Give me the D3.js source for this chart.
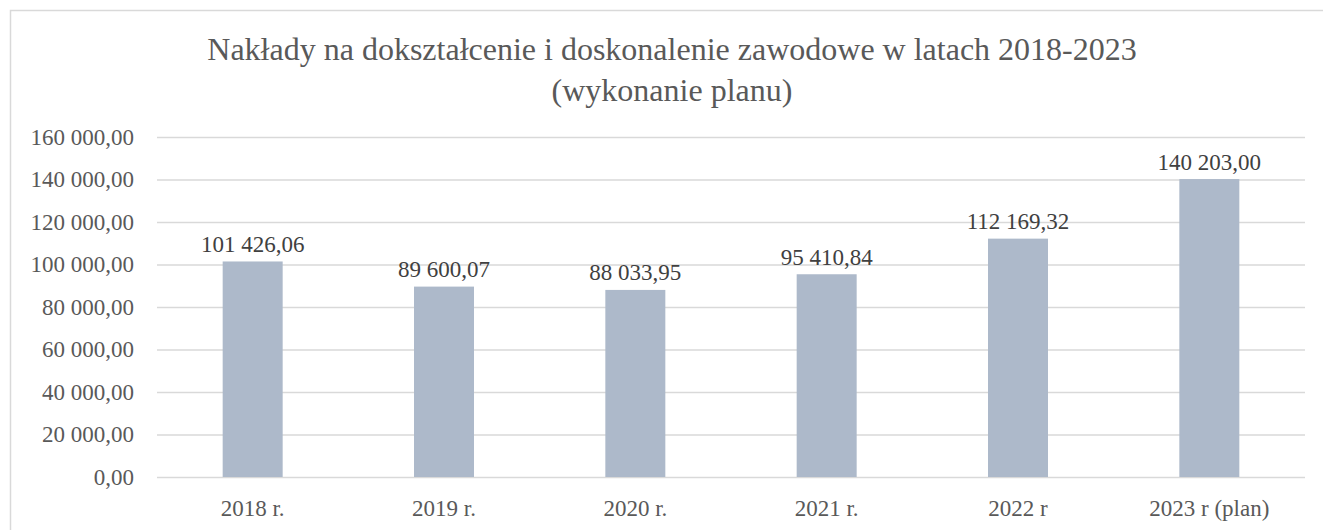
<!DOCTYPE html>
<html><head><meta charset="utf-8">
<script src="https://cdn.jsdelivr.net/npm/d3@7"></script>
<style>body{margin:0;background:#fff}svg{display:block}</style>
</head><body>
<svg id="c" width="1323" height="530"></svg>
<script>
const categories = ["2018 r.", "2019 r.", "2020 r.", "2021 r.", "2022 r", "2023 r (plan)"];
const values = [101426.06, 89600.07, 88033.95, 95410.84, 112169.32, 140203.00];
const yTicks = [0, 20000, 40000, 60000, 80000, 100000, 120000, 140000, 160000];
const titleLines = ["Nakłady na dokształcenie i doskonalenie zawodowe w latach 2018-2023", "(wykonanie planu)"];

const svg = d3.select("#c");
const font = "'Liberation Serif', 'Times New Roman', serif";
const m = {left:157, right:1305, top:137, bottom:477};

// frame
svg.append("rect").attr("x",10.5).attr("y",10.5).attr("width",1340).attr("height",560)
  .attr("fill","none").attr("stroke","#d9d9d9").attr("stroke-width",1.5);

const fmt = v => {
  const s = v.toFixed(2).replace(".", ",");
  const [i, d] = s.split(",");
  return i.replace(/\B(?=(\d{3})+(?!\d))/g, " ") + "," + d;
};

const x = d3.scaleBand().domain(categories).range([m.left, m.right]).paddingInner(0).paddingOuter(0);
const y = d3.scaleLinear().domain([0,160000]).range([m.bottom, m.top]);

// title
svg.append("g").selectAll("text").data(titleLines).join("text")
  .attr("x", 672).attr("y",(d,i)=>60+i*41)
  .attr("text-anchor","middle").style("font-family",font).style("font-size","32px")
  .attr("fill","#595959").text(d=>d);

// y axis with gridlines
const yAxis = d3.axisLeft(y).tickValues(yTicks).tickFormat(fmt).tickSize(-(m.right-m.left)).tickPadding(23);
const gy = svg.append("g").attr("transform",`translate(${m.left},0)`).call(yAxis);
gy.select(".domain").remove();
gy.selectAll(".tick line").attr("stroke","#d9d9d9").attr("stroke-width",1.5);
gy.selectAll(".tick text").style("font-family",font).style("font-size","23px").attr("fill","#595959");

// bars
const bw = 60;
svg.append("g").selectAll("rect").data(values).join("rect")
  .attr("x",(d,i)=>x(categories[i])+x.bandwidth()/2-bw/2)
  .attr("y",d=>y(d)).attr("width",bw).attr("height",d=>y(0)-y(d))
  .attr("fill","#adb9ca");

// data labels
svg.append("g").selectAll("text").data(values).join("text")
  .attr("x",(d,i)=>x(categories[i])+x.bandwidth()/2)
  .attr("y",d=>y(d)-9.5)
  .attr("text-anchor","middle").style("font-family",font).style("font-size","23px")
  .attr("fill","#404040").text(fmt);

// x axis labels
const xAxis = d3.axisBottom(x).tickSize(0).tickPadding(23);
const gx = svg.append("g").attr("transform",`translate(0,${m.bottom})`).call(xAxis);
gx.select(".domain").remove();
gx.selectAll(".tick text").style("font-family",font).style("font-size","23px").attr("fill","#595959");
</script>
</body></html>
